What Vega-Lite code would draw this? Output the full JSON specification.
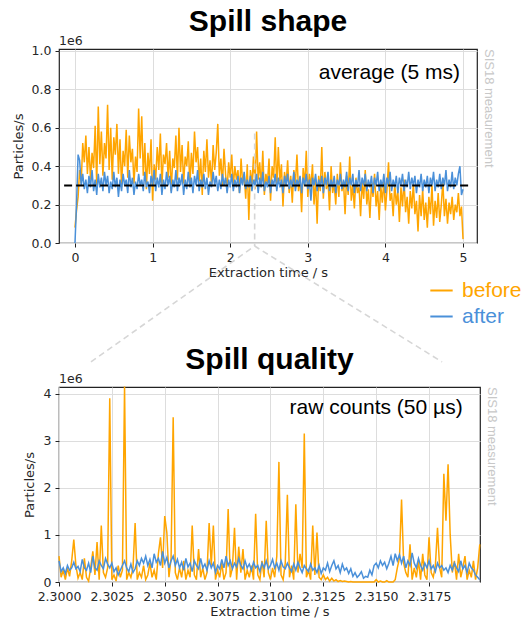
{
"$schema": "https://vega.github.io/schema/vega-lite/v6.json",
"padding": {"left": 11, "top": 6, "right": 0, "bottom": 0},
"background": "white",
"bounds": "flush",
"spacing": 144,
"config": {
 "view": {"stroke": "#222222", "strokeWidth": 1.2},
 "axis": {"labelFont": "DejaVu Sans", "labelFontSize": 12.5, "labelColor": "#262626", "titleFont": "DejaVu Sans", "titleFontSize": 13, "titleFontWeight": "normal", "titleColor": "#262626", "gridColor": "#dddddd", "gridWidth": 1, "tickColor": "#222222", "tickSize": 4, "domain": false, "labelPadding": 4, "labelOverlap": false, "labelFlush": false, "labelBound": false},
 "title": {"font": "Liberation Sans", "fontSize": 30, "fontWeight": "bold", "color": "#000000", "anchor": "middle", "frame": "group"}
},
"datasets": {
"one": [{}],
"shape": [
{"t":0.00,"before":0.08,"after":0.00},{"t":0.02,"before":0.17,"after":0.20},{"t":0.04,"before":0.24,"after":0.46},{"t":0.06,"before":0.38,"after":0.43},{"t":0.08,"before":0.31,"after":0.30},
{"t":0.10,"before":0.52,"after":0.36},{"t":0.12,"before":0.42,"after":0.28},{"t":0.14,"before":0.56,"after":0.33},{"t":0.16,"before":0.36,"after":0.26},{"t":0.18,"before":0.50,"after":0.35},
{"t":0.20,"before":0.33,"after":0.29},{"t":0.22,"before":0.47,"after":0.38},{"t":0.24,"before":0.39,"after":0.27},{"t":0.26,"before":0.61,"after":0.33},{"t":0.28,"before":0.30,"after":0.25},
{"t":0.30,"before":0.71,"after":0.36},{"t":0.32,"before":0.41,"after":0.29},{"t":0.34,"before":0.58,"after":0.34},{"t":0.36,"before":0.35,"after":0.27},{"t":0.38,"before":0.52,"after":0.37},
{"t":0.40,"before":0.44,"after":0.30},{"t":0.42,"before":0.72,"after":0.35},{"t":0.44,"before":0.38,"after":0.26},{"t":0.46,"before":0.60,"after":0.32},{"t":0.48,"before":0.33,"after":0.28},
{"t":0.50,"before":0.55,"after":0.37},{"t":0.52,"before":0.46,"after":0.29},{"t":0.54,"before":0.62,"after":0.34},{"t":0.56,"before":0.36,"after":0.24},{"t":0.58,"before":0.54,"after":0.33},
{"t":0.60,"before":0.29,"after":0.27},{"t":0.62,"before":0.48,"after":0.36},{"t":0.64,"before":0.40,"after":0.30},{"t":0.66,"before":0.59,"after":0.33},{"t":0.68,"before":0.34,"after":0.26},
{"t":0.70,"before":0.56,"after":0.38},{"t":0.72,"before":0.42,"after":0.29},{"t":0.74,"before":0.49,"after":0.34},{"t":0.76,"before":0.31,"after":0.25},{"t":0.78,"before":0.45,"after":0.32},
{"t":0.80,"before":0.37,"after":0.28},{"t":0.82,"before":0.70,"after":0.36},{"t":0.84,"before":0.44,"after":0.30},{"t":0.86,"before":0.66,"after":0.33},{"t":0.88,"before":0.35,"after":0.27},
{"t":0.90,"before":0.52,"after":0.37},{"t":0.92,"before":0.28,"after":0.29},{"t":0.94,"before":0.47,"after":0.32},{"t":0.96,"before":0.36,"after":0.26},{"t":0.98,"before":0.54,"after":0.35},
{"t":1.00,"before":0.22,"after":0.30},{"t":1.02,"before":0.41,"after":0.38},{"t":1.04,"before":0.33,"after":0.27},{"t":1.06,"before":0.50,"after":0.34},{"t":1.08,"before":0.38,"after":0.29},
{"t":1.10,"before":0.57,"after":0.36},{"t":1.12,"before":0.30,"after":0.25},{"t":1.14,"before":0.46,"after":0.33},{"t":1.16,"before":0.41,"after":0.28},{"t":1.18,"before":0.52,"after":0.37},
{"t":1.20,"before":0.34,"after":0.30},{"t":1.22,"before":0.48,"after":0.35},{"t":1.24,"before":0.27,"after":0.26},{"t":1.26,"before":0.44,"after":0.33},{"t":1.28,"before":0.39,"after":0.29},
{"t":1.30,"before":0.56,"after":0.38},{"t":1.32,"before":0.33,"after":0.27},{"t":1.34,"before":0.60,"after":0.34},{"t":1.36,"before":0.37,"after":0.30},{"t":1.38,"before":0.51,"after":0.36},
{"t":1.40,"before":0.31,"after":0.25},{"t":1.42,"before":0.45,"after":0.33},{"t":1.44,"before":0.40,"after":0.28},{"t":1.46,"before":0.53,"after":0.37},{"t":1.48,"before":0.29,"after":0.29},
{"t":1.50,"before":0.47,"after":0.34},{"t":1.52,"before":0.36,"after":0.26},{"t":1.54,"before":0.58,"after":0.35},{"t":1.56,"before":0.42,"after":0.30},{"t":1.58,"before":0.50,"after":0.38},
{"t":1.60,"before":0.32,"after":0.27},{"t":1.62,"before":0.44,"after":0.33},{"t":1.64,"before":0.25,"after":0.29},{"t":1.66,"before":0.48,"after":0.36},{"t":1.68,"before":0.37,"after":0.28},
{"t":1.70,"before":0.54,"after":0.34},{"t":1.72,"before":0.34,"after":0.25},{"t":1.74,"before":0.43,"after":0.32},{"t":1.76,"before":0.30,"after":0.29},{"t":1.78,"before":0.51,"after":0.37},
{"t":1.80,"before":0.38,"after":0.30},{"t":1.82,"before":0.47,"after":0.35},{"t":1.84,"before":0.62,"after":0.27},{"t":1.86,"before":0.35,"after":0.33},{"t":1.88,"before":0.44,"after":0.28},
{"t":1.90,"before":0.30,"after":0.36},{"t":1.92,"before":0.49,"after":0.30},{"t":1.94,"before":0.36,"after":0.34},{"t":1.96,"before":0.27,"after":0.26},{"t":1.98,"before":0.42,"after":0.33},
{"t":2.00,"before":0.34,"after":0.29},{"t":2.02,"before":0.46,"after":0.36},{"t":2.04,"before":0.29,"after":0.27},{"t":2.06,"before":0.40,"after":0.33},{"t":2.08,"before":0.33,"after":0.29},
{"t":2.10,"before":0.38,"after":0.35},{"t":2.12,"before":0.26,"after":0.26},{"t":2.14,"before":0.44,"after":0.34},{"t":2.16,"before":0.31,"after":0.30},{"t":2.18,"before":0.36,"after":0.37},
{"t":2.20,"before":0.23,"after":0.28},{"t":2.22,"before":0.41,"after":0.33},{"t":2.24,"before":0.12,"after":0.29},{"t":2.26,"before":0.38,"after":0.35},{"t":2.28,"before":0.30,"after":0.27},
{"t":2.30,"before":0.45,"after":0.33},{"t":2.32,"before":0.28,"after":0.30},{"t":2.34,"before":0.58,"after":0.36},{"t":2.36,"before":0.33,"after":0.26},{"t":2.38,"before":0.42,"after":0.34},
{"t":2.40,"before":0.29,"after":0.29},{"t":2.42,"before":0.48,"after":0.37},{"t":2.44,"before":0.25,"after":0.27},{"t":2.46,"before":0.36,"after":0.32},{"t":2.48,"before":0.31,"after":0.29},
{"t":2.50,"before":0.44,"after":0.35},{"t":2.52,"before":0.22,"after":0.26},{"t":2.54,"before":0.40,"after":0.33},{"t":2.56,"before":0.34,"after":0.30},{"t":2.58,"before":0.55,"after":0.36},
{"t":2.60,"before":0.28,"after":0.27},{"t":2.62,"before":0.50,"after":0.34},{"t":2.64,"before":0.32,"after":0.29},{"t":2.66,"before":0.41,"after":0.33},{"t":2.68,"before":0.19,"after":0.26},
{"t":2.70,"before":0.37,"after":0.35},{"t":2.72,"before":0.30,"after":0.30},{"t":2.74,"before":0.43,"after":0.36},{"t":2.76,"before":0.26,"after":0.28},{"t":2.78,"before":0.35,"after":0.33},
{"t":2.80,"before":0.21,"after":0.29},{"t":2.82,"before":0.38,"after":0.37},{"t":2.84,"before":0.31,"after":0.27},{"t":2.86,"before":0.46,"after":0.33},{"t":2.88,"before":0.27,"after":0.30},
{"t":2.90,"before":0.34,"after":0.35},{"t":2.92,"before":0.16,"after":0.26},{"t":2.94,"before":0.39,"after":0.34},{"t":2.96,"before":0.30,"after":0.30},{"t":2.98,"before":0.48,"after":0.36},
{"t":3.00,"before":0.24,"after":0.28},{"t":3.02,"before":0.36,"after":0.33},{"t":3.04,"before":0.29,"after":0.22},{"t":3.06,"before":0.41,"after":0.34},{"t":3.08,"before":0.20,"after":0.30},
{"t":3.10,"before":0.33,"after":0.36},{"t":3.12,"before":0.10,"after":0.27},{"t":3.14,"before":0.35,"after":0.33},{"t":3.16,"before":0.27,"after":0.29},{"t":3.18,"before":0.50,"after":0.35},
{"t":3.20,"before":0.23,"after":0.26},{"t":3.22,"before":0.37,"after":0.34},{"t":3.24,"before":0.28,"after":0.30},{"t":3.26,"before":0.33,"after":0.37},{"t":3.28,"before":0.17,"after":0.27},
{"t":3.30,"before":0.40,"after":0.33},{"t":3.32,"before":0.26,"after":0.29},{"t":3.34,"before":0.31,"after":0.35},{"t":3.36,"before":0.20,"after":0.26},{"t":3.38,"before":0.36,"after":0.33},
{"t":3.40,"before":0.24,"after":0.30},{"t":3.42,"before":0.42,"after":0.36},{"t":3.44,"before":0.27,"after":0.28},{"t":3.46,"before":0.32,"after":0.33},{"t":3.48,"before":0.15,"after":0.29},
{"t":3.50,"before":0.35,"after":0.37},{"t":3.52,"before":0.25,"after":0.27},{"t":3.54,"before":0.45,"after":0.34},{"t":3.56,"before":0.22,"after":0.30},{"t":3.58,"before":0.30,"after":0.36},
{"t":3.60,"before":0.18,"after":0.26},{"t":3.62,"before":0.34,"after":0.33},{"t":3.64,"before":0.26,"after":0.29},{"t":3.66,"before":0.29,"after":0.38},{"t":3.68,"before":0.14,"after":0.27},
{"t":3.70,"before":0.32,"after":0.34},{"t":3.72,"before":0.23,"after":0.30},{"t":3.74,"before":0.38,"after":0.36},{"t":3.76,"before":0.20,"after":0.27},{"t":3.78,"before":0.28,"after":0.33},
{"t":3.80,"before":0.13,"after":0.29},{"t":3.82,"before":0.31,"after":0.35},{"t":3.84,"before":0.24,"after":0.26},{"t":3.86,"before":0.36,"after":0.34},{"t":3.88,"before":0.19,"after":0.30},
{"t":3.90,"before":0.27,"after":0.37},{"t":3.92,"before":0.12,"after":0.27},{"t":3.94,"before":0.30,"after":0.33},{"t":3.96,"before":0.21,"after":0.29},{"t":3.98,"before":0.33,"after":0.36},
{"t":4.00,"before":0.17,"after":0.26},{"t":4.02,"before":0.28,"after":0.34},{"t":4.04,"before":0.42,"after":0.30},{"t":4.06,"before":0.22,"after":0.37},{"t":4.08,"before":0.26,"after":0.27},
{"t":4.10,"before":0.14,"after":0.33},{"t":4.12,"before":0.31,"after":0.29},{"t":4.14,"before":0.20,"after":0.35},{"t":4.16,"before":0.27,"after":0.26},{"t":4.18,"before":0.11,"after":0.34},
{"t":4.20,"before":0.29,"after":0.30},{"t":4.22,"before":0.19,"after":0.36},{"t":4.24,"before":0.33,"after":0.27},{"t":4.26,"before":0.16,"after":0.33},{"t":4.28,"before":0.24,"after":0.29},
{"t":4.30,"before":0.10,"after":0.37},{"t":4.32,"before":0.27,"after":0.28},{"t":4.34,"before":0.18,"after":0.34},{"t":4.36,"before":0.31,"after":0.30},{"t":4.38,"before":0.15,"after":0.35},
{"t":4.40,"before":0.22,"after":0.26},{"t":4.42,"before":0.06,"after":0.33},{"t":4.44,"before":0.25,"after":0.29},{"t":4.46,"before":0.14,"after":0.36},{"t":4.48,"before":0.28,"after":0.27},
{"t":4.50,"before":0.12,"after":0.33},{"t":4.52,"before":0.21,"after":0.29},{"t":4.54,"before":0.08,"after":0.35},{"t":4.56,"before":0.24,"after":0.26},{"t":4.58,"before":0.15,"after":0.34},
{"t":4.60,"before":0.30,"after":0.30},{"t":4.62,"before":0.09,"after":0.37},{"t":4.64,"before":0.22,"after":0.27},{"t":4.66,"before":0.13,"after":0.33},{"t":4.68,"before":0.26,"after":0.29},
{"t":4.70,"before":0.11,"after":0.36},{"t":4.72,"before":0.20,"after":0.28},{"t":4.74,"before":0.32,"after":0.34},{"t":4.76,"before":0.14,"after":0.30},{"t":4.78,"before":0.23,"after":0.38},
{"t":4.80,"before":0.10,"after":0.27},{"t":4.82,"before":0.21,"after":0.33},{"t":4.84,"before":0.15,"after":0.29},{"t":4.86,"before":0.24,"after":0.37},{"t":4.88,"before":0.12,"after":0.28},
{"t":4.90,"before":0.20,"after":0.34},{"t":4.92,"before":0.16,"after":0.30},{"t":4.94,"before":0.26,"after":0.36},{"t":4.96,"before":0.14,"after":0.40},{"t":4.98,"before":0.19,"after":0.25},
{"t":5.00,"before":0.02,"after":0.28}
],
"quality": [
{"t":2.3000,"before":0.55,"after":0.45},{"t":2.3001,"before":0.10,"after":0.22},{"t":2.3002,"before":0.25,"after":0.30},{"t":2.3003,"before":0.05,"after":0.18},{"t":2.3004,"before":0.30,"after":0.35},
{"t":2.3005,"before":0.12,"after":0.25},{"t":2.3006,"before":0.45,"after":0.30},{"t":2.3007,"before":0.90,"after":0.42},{"t":2.3008,"before":0.35,"after":0.28},{"t":2.3009,"before":0.08,"after":0.33},
{"t":2.3010,"before":0.20,"after":0.22},{"t":2.3011,"before":0.05,"after":0.48},{"t":2.3012,"before":0.50,"after":0.30},{"t":2.3013,"before":0.10,"after":0.25},{"t":2.3014,"before":0.02,"after":0.40},
{"t":2.3015,"before":0.30,"after":0.20},{"t":2.3016,"before":0.65,"after":0.55},{"t":2.3017,"before":0.15,"after":0.30},{"t":2.3018,"before":0.85,"after":0.25},{"t":2.3019,"before":0.05,"after":0.45},
{"t":2.3020,"before":1.20,"after":0.35},{"t":2.3021,"before":0.20,"after":0.28},{"t":2.3022,"before":0.10,"after":0.50},{"t":2.3023,"before":0.30,"after":0.38},{"t":2.3024,"before":3.90,"after":0.30},
{"t":2.3025,"before":0.05,"after":0.40},{"t":2.3026,"before":0.15,"after":0.22},{"t":2.3027,"before":0.02,"after":0.30},{"t":2.3028,"before":0.35,"after":0.15},{"t":2.3029,"before":0.10,"after":0.25},
{"t":2.3030,"before":0.25,"after":0.35},{"t":2.3031,"before":4.15,"after":0.45},{"t":2.3032,"before":0.05,"after":0.30},{"t":2.3033,"before":0.20,"after":0.22},{"t":2.3034,"before":0.10,"after":0.38},
{"t":2.3035,"before":0.30,"after":0.20},{"t":2.3036,"before":1.25,"after":0.28},{"t":2.3037,"before":0.05,"after":0.45},{"t":2.3038,"before":0.20,"after":0.35},{"t":2.3039,"before":0.10,"after":0.50},
{"t":2.3040,"before":0.35,"after":0.40},{"t":2.3041,"before":0.05,"after":0.55},{"t":2.3042,"before":0.15,"after":0.35},{"t":2.3043,"before":0.40,"after":0.48},{"t":2.3044,"before":0.10,"after":0.30},
{"t":2.3045,"before":0.25,"after":0.60},{"t":2.3046,"before":0.05,"after":0.42},{"t":2.3047,"before":0.60,"after":0.50},{"t":2.3048,"before":0.95,"after":0.35},{"t":2.3049,"before":0.30,"after":0.65},
{"t":2.3050,"before":1.40,"after":0.40},{"t":2.3051,"before":1.05,"after":0.52},{"t":2.3052,"before":0.10,"after":0.30},{"t":2.3053,"before":0.50,"after":0.45},{"t":2.3054,"before":3.50,"after":0.55},
{"t":2.3055,"before":0.20,"after":0.35},{"t":2.3056,"before":0.05,"after":0.48},{"t":2.3057,"before":0.30,"after":0.30},{"t":2.3058,"before":0.10,"after":0.42},{"t":2.3059,"before":0.45,"after":0.25},
{"t":2.3060,"before":0.05,"after":0.50},{"t":2.3061,"before":0.25,"after":0.32},{"t":2.3062,"before":0.10,"after":0.40},{"t":2.3063,"before":1.20,"after":0.22},{"t":2.3064,"before":0.15,"after":0.45},
{"t":2.3065,"before":0.05,"after":0.35},{"t":2.3066,"before":0.70,"after":0.28},{"t":2.3067,"before":0.10,"after":0.50},{"t":2.3068,"before":0.30,"after":0.30},{"t":2.3069,"before":0.05,"after":0.38},
{"t":2.3070,"before":0.20,"after":0.25},{"t":2.3071,"before":1.25,"after":0.45},{"t":2.3072,"before":0.35,"after":0.30},{"t":2.3073,"before":1.20,"after":0.40},{"t":2.3074,"before":0.05,"after":0.20},
{"t":2.3075,"before":0.25,"after":0.35},{"t":2.3076,"before":0.10,"after":0.28},{"t":2.3077,"before":0.40,"after":0.48},{"t":2.3078,"before":0.05,"after":0.30},{"t":2.3079,"before":0.20,"after":0.55},
{"t":2.3080,"before":1.55,"after":0.35},{"t":2.3081,"before":0.10,"after":0.45},{"t":2.3082,"before":0.30,"after":0.28},{"t":2.3083,"before":1.15,"after":0.40},{"t":2.3084,"before":0.05,"after":0.32},
{"t":2.3085,"before":0.75,"after":0.50},{"t":2.3086,"before":0.20,"after":0.35},{"t":2.3087,"before":0.70,"after":0.28},{"t":2.3088,"before":0.05,"after":0.45},{"t":2.3089,"before":0.25,"after":0.30},
{"t":2.3090,"before":0.10,"after":0.38},{"t":2.3091,"before":0.35,"after":0.25},{"t":2.3092,"before":0.05,"after":0.42},{"t":2.3093,"before":1.45,"after":0.30},{"t":2.3094,"before":0.15,"after":0.35},
{"t":2.3095,"before":0.05,"after":0.22},{"t":2.3096,"before":0.45,"after":0.40},{"t":2.3097,"before":0.10,"after":0.30},{"t":2.3098,"before":1.30,"after":0.45},{"t":2.3099,"before":0.20,"after":0.28},
{"t":2.3100,"before":0.05,"after":0.35},{"t":2.3101,"before":0.30,"after":0.48},{"t":2.3102,"before":0.10,"after":0.30},{"t":2.3103,"before":0.55,"after":0.40},{"t":2.3104,"before":2.55,"after":0.25},
{"t":2.3105,"before":0.15,"after":0.45},{"t":2.3106,"before":0.05,"after":0.32},{"t":2.3107,"before":0.40,"after":0.28},{"t":2.3108,"before":1.85,"after":0.40},{"t":2.3109,"before":0.10,"after":0.30},
{"t":2.3110,"before":0.35,"after":0.22},{"t":2.3111,"before":0.05,"after":0.38},{"t":2.3112,"before":1.65,"after":0.25},{"t":2.3113,"before":0.20,"after":0.42},{"t":2.3114,"before":0.60,"after":0.30},
{"t":2.3115,"before":0.30,"after":0.20},{"t":2.3116,"before":3.15,"after":0.35},{"t":2.3117,"before":0.10,"after":0.28},{"t":2.3118,"before":0.25,"after":0.22},{"t":2.3119,"before":0.05,"after":0.38},
{"t":2.3120,"before":1.20,"after":0.25},{"t":2.3121,"before":0.15,"after":0.30},{"t":2.3122,"before":1.05,"after":0.20},{"t":2.3123,"before":0.10,"after":0.35},{"t":2.3124,"before":0.05,"after":0.18},
{"t":2.3125,"before":0.15,"after":0.30},{"t":2.3126,"before":0.05,"after":0.25},{"t":2.3127,"before":0.10,"after":0.40},{"t":2.3128,"before":0.02,"after":0.22},{"t":2.3129,"before":0.08,"after":0.35},
{"t":2.3130,"before":0.02,"after":0.45},{"t":2.3131,"before":0.05,"after":0.28},{"t":2.3132,"before":0.01,"after":0.35},{"t":2.3133,"before":0.03,"after":0.20},{"t":2.3134,"before":0.01,"after":0.38},
{"t":2.3135,"before":0.02,"after":0.25},{"t":2.3136,"before":0.01,"after":0.30},{"t":2.3137,"before":0.00,"after":0.18},{"t":2.3138,"before":0.01,"after":0.28},{"t":2.3139,"before":0.00,"after":0.12},
{"t":2.3140,"before":0.00,"after":0.20},{"t":2.3141,"before":0.00,"after":0.10},{"t":2.3142,"before":0.00,"after":0.15},{"t":2.3143,"before":0.00,"after":0.22},{"t":2.3144,"before":0.00,"after":0.08},
{"t":2.3145,"before":0.00,"after":0.12},{"t":2.3146,"before":0.00,"after":0.10},{"t":2.3147,"before":0.00,"after":0.25},{"t":2.3148,"before":0.00,"after":0.15},{"t":2.3149,"before":0.00,"after":0.35},
{"t":2.3150,"before":0.05,"after":0.40},{"t":2.3151,"before":0.00,"after":0.30},{"t":2.3152,"before":0.02,"after":0.45},{"t":2.3153,"before":0.00,"after":0.35},{"t":2.3154,"before":0.00,"after":0.42},
{"t":2.3155,"before":0.03,"after":0.28},{"t":2.3156,"before":0.00,"after":0.40},{"t":2.3157,"before":0.00,"after":0.55},{"t":2.3158,"before":0.00,"after":0.35},{"t":2.3159,"before":0.05,"after":0.60},
{"t":2.3160,"before":0.30,"after":0.45},{"t":2.3161,"before":0.50,"after":0.58},{"t":2.3162,"before":1.75,"after":0.40},{"t":2.3163,"before":0.40,"after":0.55},{"t":2.3164,"before":0.20,"after":0.30},
{"t":2.3165,"before":0.10,"after":0.45},{"t":2.3166,"before":0.80,"after":0.35},{"t":2.3167,"before":0.05,"after":0.62},{"t":2.3168,"before":0.30,"after":0.40},{"t":2.3169,"before":0.10,"after":0.30},
{"t":2.3170,"before":0.45,"after":0.50},{"t":2.3171,"before":0.05,"after":0.35},{"t":2.3172,"before":0.60,"after":0.25},{"t":2.3173,"before":0.15,"after":0.40},{"t":2.3174,"before":0.05,"after":0.30},
{"t":2.3175,"before":0.95,"after":0.45},{"t":2.3176,"before":0.20,"after":0.28},{"t":2.3177,"before":0.10,"after":0.35},{"t":2.3178,"before":0.35,"after":0.22},{"t":2.3179,"before":1.15,"after":0.40},
{"t":2.3180,"before":0.30,"after":0.30},{"t":2.3181,"before":0.10,"after":0.35},{"t":2.3182,"before":2.30,"after":0.25},{"t":2.3183,"before":1.30,"after":0.30},{"t":2.3184,"before":2.50,"after":0.20},
{"t":2.3185,"before":1.00,"after":0.35},{"t":2.3186,"before":0.20,"after":0.25},{"t":2.3187,"before":0.45,"after":0.40},{"t":2.3188,"before":0.05,"after":0.30},{"t":2.3189,"before":0.60,"after":0.22},
{"t":2.3190,"before":0.10,"after":0.45},{"t":2.3191,"before":0.30,"after":0.28},{"t":2.3192,"before":0.55,"after":0.35},{"t":2.3193,"before":0.05,"after":0.20},{"t":2.3194,"before":0.25,"after":0.40},
{"t":2.3195,"before":0.10,"after":0.30},{"t":2.3196,"before":0.45,"after":0.25},{"t":2.3197,"before":0.05,"after":0.15},{"t":2.3198,"before":0.30,"after":0.10},{"t":2.3199,"before":0.80,"after":0.05}
],
"connector": [{"t":0.206,"rate":-0.619},{"t":2.315,"rate":-0.016},{"t":4.73,"rate":-0.619}]
},
"vconcat": [
{
 "width": 418, "height": 194,
 "title": {"text": "Spill shape", "offset": -2},
 "layer": [
  {"data": {"name": "shape"},
   "transform": [{"fold": ["before", "after"], "as": ["series", "rate"]}, {"filter": "datum.series === 'before'"}],
   "mark": {"type": "line", "strokeWidth": 1.5},
   "encoding": {
    "x": {"field": "t", "type": "quantitative", "scale": {"domain": [-0.206, 5.18], "nice": false, "zero": false},
          "axis": {"title": "Extraction time / s", "values": [0, 1, 2, 3, 4, 5], "format": "d", "grid": true, "titlePadding": 3}},
    "y": {"field": "rate", "type": "quantitative", "scale": {"domain": [0, 1.01], "nice": false},
          "axis": {"title": "Particles/s", "values": [0, 0.2, 0.4, 0.6, 0.8, 1.0], "format": ".1f", "grid": true, "titlePadding": 6}},
    "color": {"field": "series", "type": "nominal", "scale": {"domain": ["before", "after"], "range": ["#FFA500", "#4A90D9"]},
      "legend": {"orient": "none", "legendX": 370, "legendY": 229, "title": null, "symbolType": "stroke", "symbolStrokeWidth": 2, "symbolSize": 500, "labelFont": "Liberation Sans", "labelFontSize": 21, "labelOffset": 8, "rowPadding": 3,
        "encode": {"labels": {"update": {"fill": {"scale": "color", "field": "value"}}}}}}
   }},
  {"data": {"name": "connector"}, "mark": {"type": "line", "stroke": "#d6d6d6", "strokeWidth": 1.6, "strokeDash": [6, 4], "clip": false},
   "encoding": {
    "x": {"field": "t", "type": "quantitative"},
    "y": {"field": "rate", "type": "quantitative", "axis": {"title": "Particles/s", "values": [0, 0.2, 0.4, 0.6, 0.8, 1.0], "format": ".1f", "grid": true, "titlePadding": 6}}}},
  {"data": {"name": "one"}, "mark": {"type": "rule", "stroke": "#d6d6d6", "strokeWidth": 1.6, "strokeDash": [6, 4], "clip": false},
   "encoding": {"x": {"datum": 2.315}, "y": {"datum": 0.57, "axis": {"title": "Particles/s", "values": [0, 0.2, 0.4, 0.6, 0.8, 1.0], "format": ".1f", "grid": true, "titlePadding": 6}}, "y2": {"datum": -0.016}}},
  {"data": {"name": "shape"},
   "transform": [{"fold": ["before", "after"], "as": ["series", "rate"]}, {"filter": "datum.series === 'after'"}],
   "mark": {"type": "line", "strokeWidth": 1.5},
   "encoding": {"x": {"field": "t", "type": "quantitative"}, "y": {"field": "rate", "type": "quantitative", "axis": {"title": "Particles/s", "values": [0, 0.2, 0.4, 0.6, 0.8, 1.0], "format": ".1f", "grid": true, "titlePadding": 6}}, "color": {"field": "series", "type": "nominal"}}},
  {"data": {"name": "one"}, "mark": {"type": "rule", "stroke": "#000000", "strokeWidth": 2, "strokeDash": [8, 4]},
   "encoding": {"x": {"datum": -0.14}, "x2": {"datum": 5.08}, "y": {"datum": 0.3, "axis": {"title": "Particles/s", "values": [0, 0.2, 0.4, 0.6, 0.8, 1.0], "format": ".1f", "grid": true, "titlePadding": 6}}}},
  {"data": {"name": "one"}, "mark": {"type": "text", "text": "average (5 ms)", "align": "right", "baseline": "alphabetic", "font": "Liberation Sans", "fontSize": 21, "color": "#000000"},
   "encoding": {"x": {"datum": 4.96}, "y": {"datum": 0.855, "axis": {"title": "Particles/s", "values": [0, 0.2, 0.4, 0.6, 0.8, 1.0], "format": ".1f", "grid": true, "titlePadding": 6}}}},
  {"data": {"name": "one"}, "mark": {"type": "text", "text": "1e6", "align": "left", "baseline": "bottom", "dy": -1, "font": "DejaVu Sans", "fontSize": 12.5, "color": "#262626"},
   "encoding": {"x": {"datum": -0.206}, "y": {"datum": 1.01, "axis": {"title": "Particles/s", "values": [0, 0.2, 0.4, 0.6, 0.8, 1.0], "format": ".1f", "grid": true, "titlePadding": 6}}}},
  {"data": {"name": "one"}, "mark": {"type": "text", "text": "SIS18 measurement", "angle": 90, "align": "left", "baseline": "bottom", "dy": -5, "font": "Liberation Sans", "fontSize": 13, "color": "#c8c8c8"},
   "encoding": {"x": {"datum": 5.18}, "y": {"datum": 1.01, "axis": {"title": "Particles/s", "values": [0, 0.2, 0.4, 0.6, 0.8, 1.0], "format": ".1f", "grid": true, "titlePadding": 6}}}}
 ]
},
{
 "width": 421, "height": 195,
 "title": {"text": "Spill quality", "offset": -2},
 "layer": [
  {"data": {"name": "quality"},
   "transform": [{"fold": ["before", "after"], "as": ["series", "rate"]}, {"filter": "datum.series === 'before'"}],
   "mark": {"type": "line", "strokeWidth": 1.5},
   "encoding": {
    "x": {"field": "t", "type": "quantitative", "scale": {"domain": [2.3, 2.31991], "nice": false, "zero": false},
          "axis": {"title": "Extraction time / s", "values": [2.3, 2.3025, 2.305, 2.3075, 2.31, 2.3125, 2.315, 2.3175], "format": ".4f", "grid": true, "titlePadding": 3}},
    "y": {"field": "rate", "type": "quantitative", "scale": {"domain": [0, 4.14], "nice": false},
          "axis": {"title": "Particles/s", "values": [0, 1, 2, 3, 4], "format": "d", "grid": true, "titlePadding": 7}},
    "color": {"field": "series", "type": "nominal"}
   }},
  {"data": {"name": "quality"},
   "transform": [{"fold": ["before", "after"], "as": ["series", "rate"]}, {"filter": "datum.series === 'after'"}],
   "mark": {"type": "line", "strokeWidth": 1.5},
   "encoding": {"x": {"field": "t", "type": "quantitative"}, "y": {"field": "rate", "type": "quantitative"}, "color": {"field": "series", "type": "nominal"}}},
  {"data": {"name": "one"}, "mark": {"type": "text", "text": "raw counts (50 µs)", "align": "right", "baseline": "alphabetic", "font": "Liberation Sans", "fontSize": 21, "color": "#000000"},
   "encoding": {"x": {"datum": 2.31909}, "y": {"datum": 3.57}}},
  {"data": {"name": "one"}, "mark": {"type": "text", "text": "1e6", "align": "left", "baseline": "bottom", "dy": -1, "font": "DejaVu Sans", "fontSize": 12.5, "color": "#262626"},
   "encoding": {"x": {"datum": 2.3}, "y": {"datum": 4.14}}},
  {"data": {"name": "one"}, "mark": {"type": "text", "text": "SIS18 measurement", "angle": 90, "align": "left", "baseline": "bottom", "dy": -5, "font": "Liberation Sans", "fontSize": 13, "color": "#c8c8c8"},
   "encoding": {"x": {"datum": 2.31991}, "y": {"datum": 4.14}}}
 ]
}
]
}
